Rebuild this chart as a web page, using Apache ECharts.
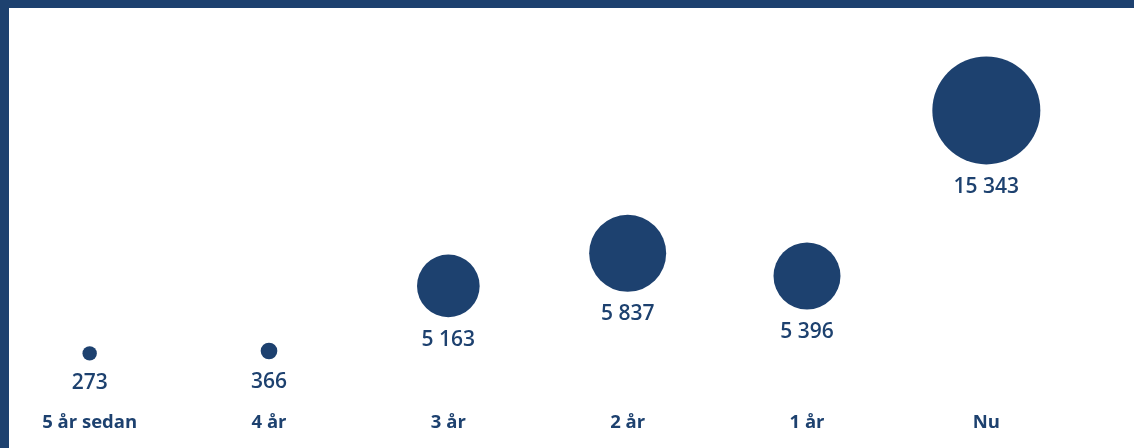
<!DOCTYPE html>
<html>
<head>
<meta charset="utf-8">
<script src="https://cdn.jsdelivr.net/npm/echarts@6/dist/echarts.min.js"></script>
<style>
    html, body { margin: 0; padding: 0; background: #fff; }
    #wrap { position: relative; width: 1134px; height: 448px; }
    #bubbles { width: 1134px; height: 448px; }
    .edge { position: absolute; background: #1d416f; }
</style>
</head>
<body>
<div id="wrap">
    <div id="bubbles"></div>
    <div class="edge" style="left:0;top:0;width:1134px;height:8px;"></div>
    <div class="edge" style="left:0;top:0;width:9px;height:448px;"></div>
</div>
<script>
// data
var categories = ['5 år sedan', '4 år', '3 år', '2 år', '1 år', 'Nu'];
var counts = [273, 366, 5163, 5837, 5396, 15343];      // tal under bubblan
var level = [13, 13.6, 30, 38.2, 32.5, 74.2];          // lodrät nivå (uppskattad)
var weight = [273, 366, 5163, 7800, 5900, 15343];      // bubblans yta (uppskattad)

var maxWeight = 15343;
var blue = '#1d416f';

function spaced(n) {
    return String(n).replace(/\B(?=(\d{3})+(?!\d))/g, ' ');
}

var seriesData = [];
for (var i = 0; i < categories.length; i++) {
    seriesData.push([categories[i], level[i], weight[i], counts[i]]);
}

var bubbles = echarts.init(document.getElementById('bubbles'));
var option = {
    animation: false,
    grid: {
        top: 8,
        bottom: 43,
        left: 0,
        right: 58
    },
    xAxis: {
        type: 'category',
        data: categories,
        axisLine: { show: false },
        axisTick: { show: false },
        splitLine: { show: false },
        axisLabel: {
            margin: 8,
            fontFamily: 'Open Sans',
            fontSize: 18.5,
            fontWeight: 'bold',
            color: blue,
            interval: 0
        }
    },
    yAxis: {
        type: 'value',
        min: 0,
        max: 100,
        show: false
    },
    series: [
        {
            type: 'scatter',
            data: seriesData,
            symbolSize: function (val) {
                return 108 * Math.sqrt(val[2] / maxWeight);
            },
            itemStyle: { color: blue, opacity: 1 },
            label: {
                show: true,
                position: 'bottom',
                distance: 12,
                fontFamily: 'Open Sans',
                fontSize: 21,
                fontWeight: 600,
                color: blue,
                formatter: function (p) {
                    return spaced(p.value[3]);
                }
            }
        }
    ]
};
bubbles.setOption(option);
</script>
</body>
</html>
